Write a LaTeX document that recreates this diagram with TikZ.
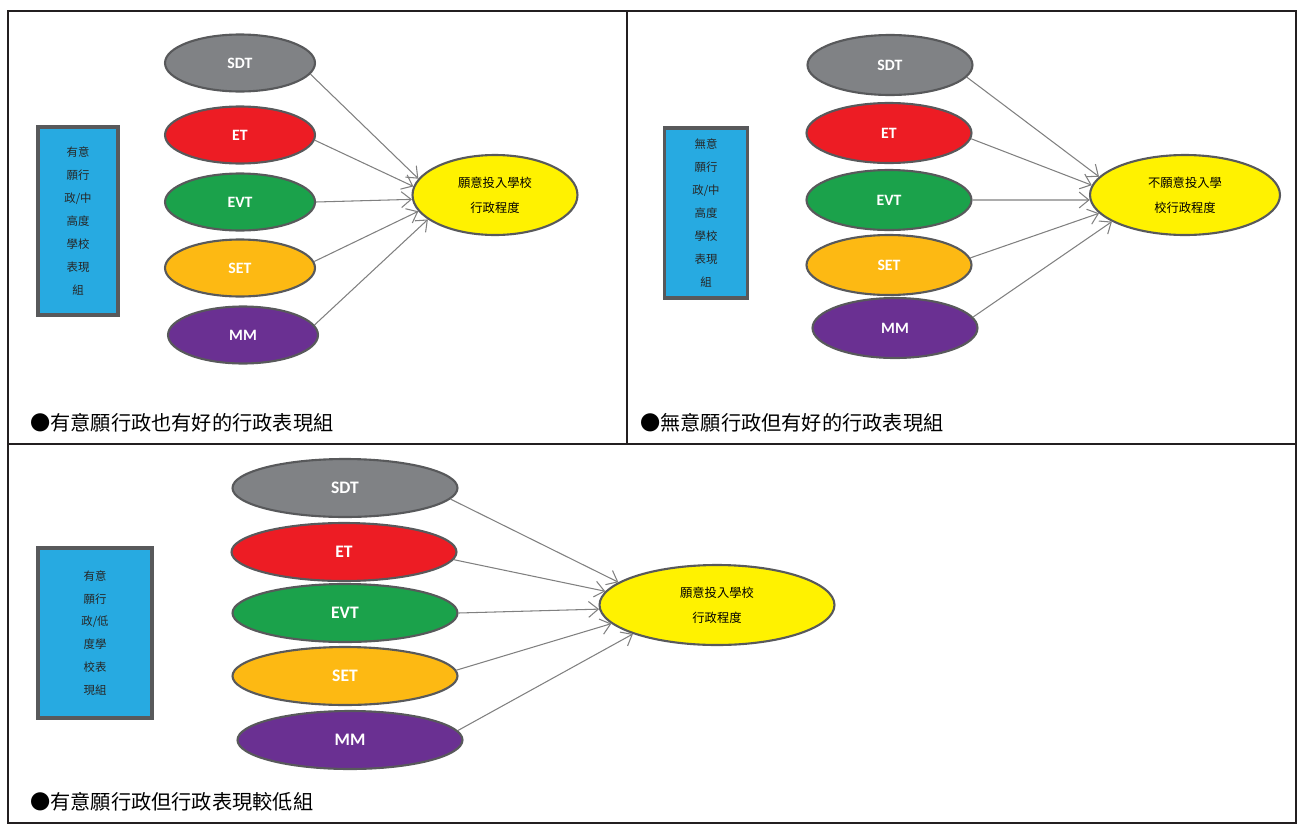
\documentclass[tikz,border=0pt]{standalone}
\usepackage{fontspec}
\setmainfont{Noto Sans CJK TC}
\newfontfamily\latfont{Carlito}
\usetikzlibrary{shapes,arrows.meta,positioning}
\usepackage{xcolor}

\definecolor{sdtgray}{HTML}{808285}
\definecolor{etred}{HTML}{ED1C24}
\definecolor{evtgreen}{HTML}{1BA24B}
\definecolor{setorange}{HTML}{FDB913}
\definecolor{mmpurple}{HTML}{6A3092}
\definecolor{outyellow}{HTML}{FFF200}
\definecolor{grpblue}{HTML}{27AAE1}
\definecolor{edgegray}{HTML}{58595B}
\definecolor{framecol}{HTML}{231F20}

\begin{document}
\begin{tikzpicture}[
    x=0.02cm, y=-0.02cm,
    frame/.style={draw=framecol, line width=1.3pt},
    factor/.style={ellipse, draw=edgegray, line width=1.2pt, text=white, inner sep=0pt, font=\latfont\bfseries\fontsize{9}{10}\selectfont},
    outcome/.style={ellipse, draw=edgegray, line width=1.2pt, fill=outyellow, align=center, inner sep=0pt, font=\fontsize{7}{14}\selectfont},
    group/.style={rectangle, draw=edgegray, line width=2.2pt, fill=grpblue, align=center, text=black!85, font=\fontsize{6.5}{13}\selectfont},
    caption/.style={anchor=west, inner sep=0pt, font=\fontsize{11.5}{13}\selectfont},
    arrow/.style={draw=gray, line width=0.6pt, -{Straight Barb[length=5.5pt,width=9pt]}},
    pone/.style={minimum width=3cm, minimum height=1.14cm},
    ptwo/.style={minimum width=3.3cm, minimum height=1.2cm},
    pthree/.style={minimum width=4.5cm, minimum height=1.16cm, font=\latfont\bfseries\fontsize{10}{11}\selectfont}
]
\useasboundingbox (0,0) rectangle (1298,825);

% Table frame
\draw[frame] (8,11) rectangle (1296,823);
\draw[frame] (627,11) -- (627,444);
\draw[frame] (8,444) -- (1296,444);

% Panel 1 - willing and good performance
\node[group, minimum width=1.6cm, minimum height=3.76cm] (grpA) at (78,221) {有意\\願行\\政/中\\高度\\學校\\表現\\組};
\node[factor, pone, fill=sdtgray] (sdtA) at (240,63) {SDT};
\node[factor, pone, fill=etred] (etA) at (240,135) {ET};
\node[factor, pone, fill=evtgreen] (evtA) at (240,202) {EVT};
\node[factor, pone, fill=setorange] (setA) at (240,268) {SET};
\node[factor, pone, fill=mmpurple] (mmA) at (243,335) {MM};
\node[outcome, minimum width=3.3cm, minimum height=1.6cm] (outA) at (495,195) {願意投入學校\\行政程度};
\node[caption] (capA) at (30,423) {●有意願行政也有好的行政表現組};

\draw[arrow] (sdtA.-9) -- (outA.168);
\draw[arrow] (etA.-4) -- (outA.174);
\draw[arrow] (evtA.east) -- (outA.183);
\draw[arrow] (setA.5) -- (outA.192);
\draw[arrow] (mmA.8) -- (outA.200);

% Panel 2 - unwilling but good performance
\node[group, minimum width=1.66cm, minimum height=3.4cm] (grpB) at (706,213) {無意\\願行\\政/中\\高度\\學校\\表現\\組};
\node[factor, ptwo, fill=sdtgray] (sdtB) at (890,65) {SDT};
\node[factor, ptwo, fill=etred] (etB) at (889,133) {ET};
\node[factor, ptwo, fill=evtgreen] (evtB) at (889,200) {EVT};
\node[factor, ptwo, fill=setorange] (setB) at (889,265) {SET};
\node[factor, ptwo, fill=mmpurple] (mmB) at (895,328) {MM};
\node[outcome, minimum width=3.8cm, minimum height=1.6cm] (outB) at (1185,195) {不願意投入學\\校行政程度};
\node[caption] (capB) at (640,423) {●無意願行政但有好的行政表現組};

\draw[arrow] (sdtB.-9) -- (outB.168);
\draw[arrow] (etB.-4) -- (outB.174);
\draw[arrow] (evtB.east) -- (outB.183);
\draw[arrow] (setB.5) -- (outB.192);
\draw[arrow] (mmB.8) -- (outB.200);

% Panel 3 - willing but lower performance
\node[group, minimum width=2.28cm, minimum height=3.4cm] (grpC) at (95,633) {有意\\願行\\政/低\\度學\\校表\\現組};
\node[factor, pthree, fill=sdtgray] (sdtC) at (345,488) {SDT};
\node[factor, pthree, fill=etred] (etC) at (344,552) {ET};
\node[factor, pthree, fill=evtgreen] (evtC) at (345,613) {EVT};
\node[factor, pthree, fill=setorange] (setC) at (345,676) {SET};
\node[factor, pthree, fill=mmpurple] (mmC) at (350,740) {MM};
\node[outcome, minimum width=4.7cm, minimum height=1.6cm] (outC) at (717,605) {願意投入學校\\行政程度};
\node[caption] (capC) at (30,802) {●有意願行政但行政表現較低組};

\draw[arrow] (sdtC.-6) -- (outC.167);
\draw[arrow] (etC.-4) -- (outC.173);
\draw[arrow] (evtC.east) -- (outC.182);
\draw[arrow] (setC.3) -- (outC.190);
\draw[arrow] (mmC.5) -- (outC.199);

\end{tikzpicture}
\end{document}
